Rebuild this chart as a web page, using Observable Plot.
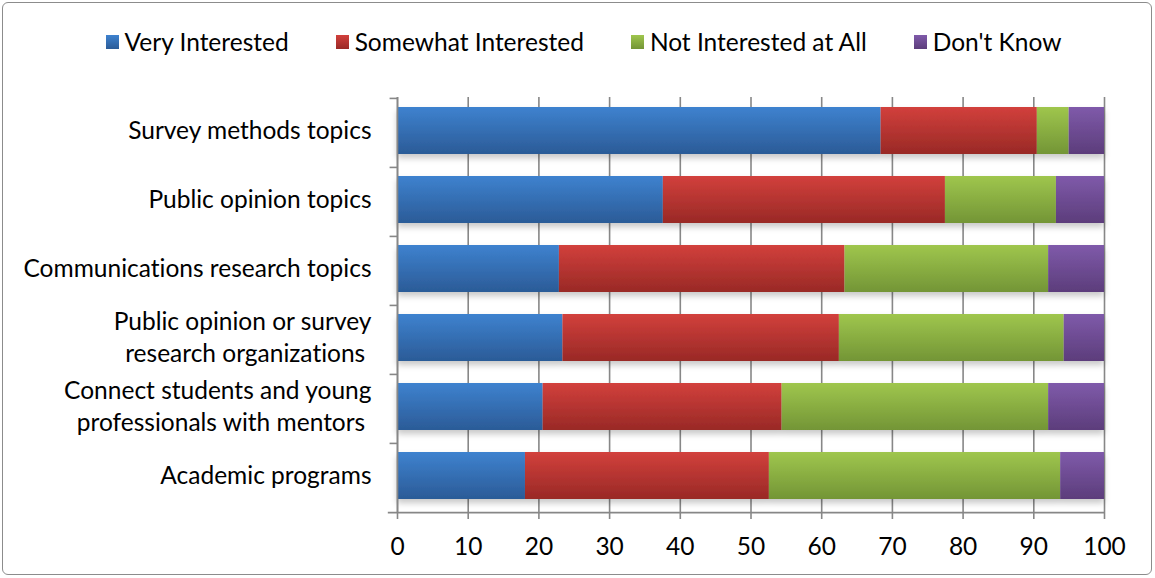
<!DOCTYPE html>
<html><head><meta charset="utf-8">
<script src="https://cdn.jsdelivr.net/npm/d3@7"></script>
<script src="https://cdn.jsdelivr.net/npm/@observablehq/plot@0.6"></script>
<style>
body{margin:0;background:#fff;}
#wrap{position:relative;width:1155px;height:578px;font-family:Lato,"Open Sans",sans-serif;color:#000;overflow:hidden;font-variant-ligatures:none}
#frame{position:absolute;left:2px;top:2px;width:1150px;height:573px;border:1px solid #8c8c8c;border-radius:6px;box-sizing:border-box;pointer-events:none}
#legend{height:70px;display:flex;justify-content:center;align-items:flex-start;padding-top:28px;box-sizing:border-box;padding-left:12px;font-size:24.5px;line-height:28px;gap:47px}
.item{display:flex;align-items:center;gap:6px;white-space:nowrap}
.sw{width:13px;height:14px;display:inline-block}
svg{display:block}
svg text{font-variant-ligatures:none;white-space:pre}
</style></head>
<body><div id="wrap"><div id="legend"></div><div id="chart"></div><div id="frame"></div></div>
<script>
const categories = [
  "Survey methods topics",
  "Public opinion topics",
  "Communications research topics",
  "Public opinion or survey\nresearch organizations\u00a0",
  "Connect students and young\nprofessionals with mentors\u00a0",
  "Academic programs"
];
const series = ["Very Interested", "Somewhat Interested", "Not Interested at All", "Don't Know"];
const veryInterested     = [68.4, 37.6, 22.9, 23.4, 20.6, 18.1];
const somewhatInterested = [22.1, 39.9, 40.4, 39.1, 33.8, 34.5];
const notInterested      = [4.5, 15.7, 28.8, 31.8, 37.7, 41.2];
const dontKnow           = [5.0, 6.8, 7.9, 5.7, 7.9, 6.2];
const xTicks = [0, 10, 20, 30, 40, 50, 60, 70, 80, 90, 100];

const gradients = [
  ["g0", "#3e82cf", "#2b5b97"],
  ["g1", "#d2403c", "#992926"],
  ["g2", "#9fc64d", "#739536"],
  ["g3", "#7f5aaa", "#5c3d7b"]
];
const fills = gradients.map(g => `url(#${g[0]})`);

const valuesBySeries = [veryInterested, somewhatInterested, notInterested, dontKnow];
const data = [];
categories.forEach((c, i) => {
  series.forEach((s, j) => data.push({category: c, series: s, value: valuesBySeries[j][i]}));
});

// legend
const legend = document.getElementById("legend");
series.forEach((s, j) => {
  const it = document.createElement("div");
  it.className = "item";
  it.innerHTML = `<span class="sw" style="background:linear-gradient(${gradients[j][1]},${gradients[j][2]})"></span><span>${s}</span>`;
  legend.appendChild(it);
});

const H = 508, mt = 27, mb = 66;
const step = (H - mt - mb) / (categories.length - 0.32 + 0.32);
const last = categories[categories.length - 1];

const plot = Plot.plot({
  width: 1155,
  height: H,
  marginTop: mt,
  marginBottom: mb,
  marginLeft: 397,
  marginRight: 51,
  style: {fontFamily: "Lato, 'Open Sans', sans-serif", fontSize: "24.5px", color: "#000", background: "#fff"},
  x: {domain: [0, 100], ticks: xTicks},
  y: {domain: categories, paddingInner: 0.32, paddingOuter: 0.16},
  color: {domain: series, range: fills},
  marks: [
    Plot.gridX(xTicks, {stroke: "#878787", strokeOpacity: 1, strokeWidth: 1.6}),
    Plot.barX(data, Plot.stackX({y: "category", x: "value", fill: "series", z: "series", order: series, dy: -2})),
    Plot.ruleX([0], {stroke: "#878787", strokeWidth: 1.6}),
    Plot.ruleY(categories, {y: d => d, x1: -1.05, x2: 0, dy: -step / 2, stroke: "#878787", strokeWidth: 1.6}),
    Plot.ruleY([last], {y: d => d, x1: -1.3, x2: 100, dy: step / 2, stroke: "#878787", strokeWidth: 1.6}),
    Plot.axisX(xTicks, {tickSize: 7, tickPadding: 18, stroke: "#878787", strokeWidth: 1.6, tickFormat: d => String(d), fill: "#000", label: null}),
    Plot.axisY({tickSize: 0, tickPadding: 26, lineHeight: 1.27, dy: -4, fill: "#000", label: null})
  ]
});

const svg = d3.select(plot);
const defs = svg.insert("defs", ":first-child");
gradients.forEach(([id, a, b]) => {
  const lg = defs.append("linearGradient").attr("id", id).attr("x1", 0).attr("y1", 0).attr("x2", 0).attr("y2", 1);
  lg.append("stop").attr("offset", "0%").attr("stop-color", a);
  lg.append("stop").attr("offset", "100%").attr("stop-color", b);
});
const f = defs.append("filter").attr("id", "shadow").attr("x", "-5%").attr("y", "-20%").attr("width", "110%").attr("height", "160%");
f.append("feDropShadow").attr("dx", 0).attr("dy", 4).attr("stdDeviation", 3).attr("flood-color", "#000").attr("flood-opacity", 0.22);
svg.selectAll("g[aria-label='bar']").attr("filter", "url(#shadow)");

document.getElementById("chart").appendChild(plot);
</script>
</body></html>
